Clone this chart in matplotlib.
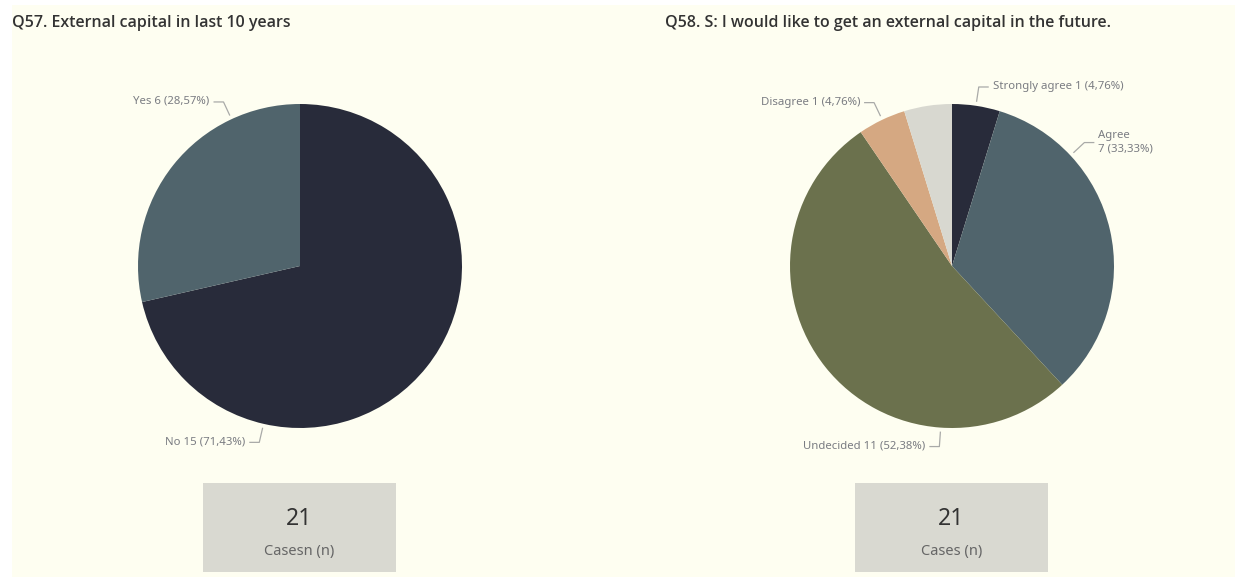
import numpy as np
import matplotlib
matplotlib.use("Agg")
import matplotlib.pyplot as plt
from matplotlib.patches import Rectangle

# ---- data ----
q57_title = "Q57. External capital in last 10 years"
q57_labels = ["No", "Yes"]
q57_counts = [15, 6]
q57_card_value = 21
q57_card_caption = "Casesn (n)"

q58_title = "Q58. S: I would like to get an external capital in the future."
q58_labels = ["Strongly agree", "Agree", "Undecided", "Disagree", "Strongly disagree"]
q58_counts = [1, 7, 11, 1, 1]
q58_card_value = 21
q58_card_caption = "Cases (n)"

# ---- style ----
W, H = 1235, 577
BG = "#FEFEF1"
TEXT = "#333333"
LABEL = "#7A7C82"
LEADER = "#A9AAA8"
CARD = "#D9D9D1"
q57_colors = ["#282B3A", "#50646C"]
q58_colors = ["#282B3A", "#50646C", "#6B714D", "#D5A882", "#D8D8D0"]

fig = plt.figure(figsize=(W / 100, H / 100), dpi=100, facecolor="white")
ax = fig.add_axes([0, 0, 1, 1])


def Y(y):
    """top-down pixel row to data y (bottom up)"""
    return H - y


def pct(v, total):
    return f"{100 * v / total:.2f}".replace(".", ",") + "%"


def draw_pie(cx, cy, r, counts, colors, labels, anchors, sides, two_line=()):
    total = sum(counts)
    ax.pie(counts, colors=colors, startangle=90, counterclock=False,
           center=(cx, Y(cy)), radius=r, wedgeprops=dict(linewidth=0),
           frame=True)
    for i, (lab, n) in enumerate(zip(labels, counts)):
        ang = anchors[i]
        if ang is None:
            continue
        a = np.deg2rad(ang)
        x0, y0 = cx + (r + 4) * np.cos(a), Y(cy) + (r + 4) * np.sin(a)
        x1, y1 = cx + (r + 19) * np.cos(a), Y(cy) + (r + 19) * np.sin(a)
        s = sides[i]
        x2 = x1 + 10 * s
        ax.plot([x0, x1, x2], [y0, y1, y1], color=LEADER, lw=0.9,
                solid_capstyle="butt", zorder=3)
        if i in two_line:
            txt = f"{lab}\n{n} ({pct(n, total)})"
        else:
            txt = f"{lab} {n} ({pct(n, total)})"
        ax.text(x2 + 4 * s, y1 + 0.5, txt, ha="left" if s > 0 else "right",
                va="center", fontsize=8.2, color=LABEL, family="Noto Sans",
                linespacing=1.3)


def draw_card(x, y, w, h, value, caption):
    ax.add_patch(Rectangle((x, Y(y + h)), w, h, facecolor=CARD,
                           edgecolor="none", zorder=2))
    ax.text(x + w / 2, Y(y + 36), str(value), ha="center", va="center",
            fontsize=16.5, color=TEXT, family="Noto Sans", zorder=3)
    ax.text(x + w / 2, Y(y + 68), caption, ha="center", va="center",
            fontsize=10.5, color="#666666", family="Noto Sans", zorder=3)


# background panel
ax.add_patch(Rectangle((12, 0), W - 12, H - 5, facecolor=BG,
                       edgecolor="none", zorder=0))

# titles
for x, title in [(12, q57_title), (665, q58_title)]:
    ax.text(x, Y(23), title, ha="left", va="center", fontsize=11.5,
            color=TEXT, family="Open Sans", fontweight="semibold")

# pies
draw_pie(300, 266, 162, q57_counts, q57_colors, q57_labels,
         anchors=[-103, 115], sides=[-1, -1])
draw_pie(952, 266, 162, q58_counts, q58_colors, q58_labels,
         anchors=[81.5, 43, -94, 115.5, None], sides=[1, 1, -1, -1, 1],
         two_line=(1,))

# count cards
draw_card(203, 483, 193, 89, q57_card_value, q57_card_caption)
draw_card(855, 483, 193, 89, q58_card_value, q58_card_caption)

ax.set_xlim(0, W)
ax.set_ylim(0, H)
ax.set_aspect("auto")
ax.axis("off")

fig.savefig("out.png", dpi=100, facecolor="white")
